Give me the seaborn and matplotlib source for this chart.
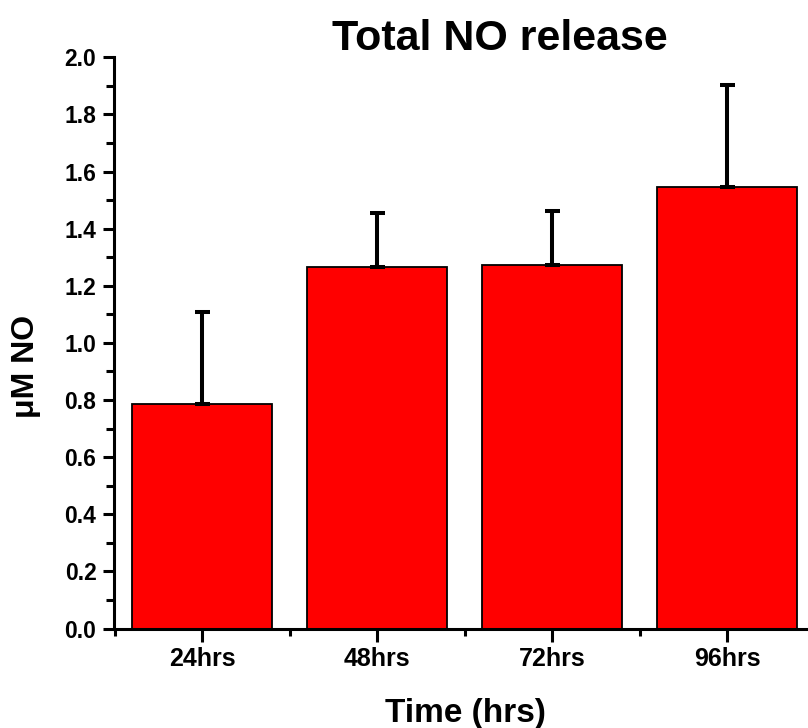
import numpy as np
import pandas as pd
import matplotlib
matplotlib.use("Agg")
import matplotlib.pyplot as plt
from matplotlib.ticker import MultipleLocator, FixedLocator, FormatStrFormatter
import seaborn as sns

# Total NO release per time point (mean and upper error)
time_points = ["24hrs", "48hrs", "72hrs", "96hrs"]
no_mean = [0.786, 1.265, 1.273, 1.547]
no_err_upper = [0.323, 0.190, 0.190, 0.356]

sns.set_theme(style="ticks")
plt.rcParams["font.family"] = ["Liberation Sans", "DejaVu Sans"]
plt.rcParams["font.weight"] = "bold"
plt.rcParams["text.color"] = "black"
plt.rcParams["axes.labelcolor"] = "black"
plt.rcParams["xtick.color"] = "black"
plt.rcParams["ytick.color"] = "black"

W, H = 808, 728
fig = plt.figure(figsize=(W / 100, H / 100), dpi=100)
ax = fig.add_axes([114.5 / W, (H - 628.5) / H, 700 / W, (628.5 - 57.3) / H])

df = pd.DataFrame({"time": time_points, "no": no_mean})
sns.barplot(data=df, x="time", y="no", color="#ff0000", saturation=1,
            edgecolor="black", linewidth=1.3, width=0.8, errorbar=None, ax=ax)

ax.errorbar(np.arange(len(time_points)), no_mean,
            yerr=[np.zeros(len(no_mean)), no_err_upper],
            fmt="none", ecolor="black", elinewidth=2.9,
            capsize=5.4, capthick=2.9, zorder=5)

ax.set_xlim(-0.5, 3.5)
ax.set_ylim(0, 2.0)

ax.yaxis.set_major_locator(MultipleLocator(0.2))
ax.yaxis.set_minor_locator(MultipleLocator(0.1))
ax.yaxis.set_major_formatter(FormatStrFormatter("%.1f"))
ax.xaxis.set_minor_locator(FixedLocator([-0.5, 0.5, 1.5, 2.5, 3.5]))

for side in ("top", "right"):
    ax.spines[side].set_visible(False)
for side in ("left", "bottom"):
    ax.spines[side].set_linewidth(2.2)
    ax.spines[side].set_color("black")

ax.tick_params(axis="y", which="major", direction="out", length=8, width=2.2,
               labelsize=16.5, pad=5, colors="black")
ax.tick_params(axis="y", which="minor", direction="out", length=5.5, width=2.2,
               colors="black")
ax.tick_params(axis="x", which="major", direction="out", length=9, width=2.2,
               labelsize=18, pad=4, colors="black")
ax.tick_params(axis="x", which="minor", direction="out", length=5, width=2.2,
               colors="black")
for lbl in ax.get_xticklabels() + ax.get_yticklabels():
    lbl.set_fontweight("bold")
    lbl.set_color("black")

ax.set_xlabel("")
ax.set_ylabel("")

fig.text(500 / W, 1 - 50 / H, "Total NO release", ha="center", va="baseline",
         fontsize=31, fontweight="bold", color="black")
fig.text(465 / W, 1 - 722 / H, "Time (hrs)", ha="center", va="baseline",
         fontsize=24, fontweight="bold", color="black")
fig.text(26 / W, 1 - 366 / H, "μM NO", ha="center", va="center",
         rotation=90, fontsize=23, fontweight="bold", color="black")

fig.savefig("out.png", dpi=100)
